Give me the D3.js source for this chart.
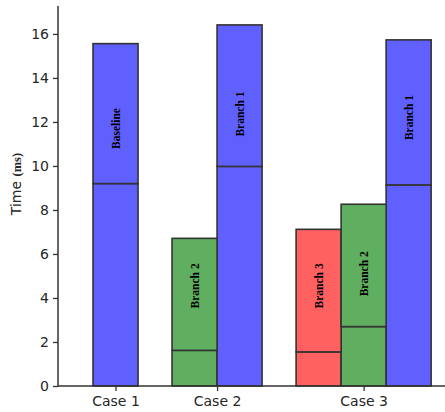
<!DOCTYPE html>
<html>
<head>
<meta charset="utf-8">
<script src="https://cdn.jsdelivr.net/npm/d3@7"></script>
<style>
  html, body { margin: 0; padding: 0; background: #fff; }
  svg { display: block; }
</style>
</head>
<body>
<svg id="chart" width="445" height="412"></svg>
<script>
// Cases on the x axis
const cases = ["Case 1", "Case 2", "Case 3"];

// One entry per bar: which case it belongs to and which branch it shows
const barCase   = [0, 1, 1, 2, 2, 2];
const barBranch = ["Baseline", "Branch 2", "Branch 1", "Branch 3", "Branch 2", "Branch 1"];

// Stacked timings (ms): lower part and full bar height
const lowerPart = [9.2, 1.62, 9.98, 1.55, 2.70, 9.14];
const totalTime = [15.56, 6.71, 16.41, 7.12, 8.26, 15.73];

// Height (ms) at which each branch name is written
const labelAt = [11.7, 4.55, 12.36, 4.55, 5.1, 12.2];

// Y ticks
const yTicks = [0, 2, 4, 6, 8, 10, 12, 14, 16];

const branchColor = {
  "Baseline": "#6060ff",
  "Branch 1": "#6060ff",
  "Branch 2": "#60ae60",
  "Branch 3": "#ff6060"
};

const ink = "#333333";
const groupGap = 0.756;   // gap between cases, in bar widths

// Slot position of every bar: bars of one case sit side by side,
// cases are separated by a gap
const barStart = [];
{
  let pos = 0, prev = barCase[0];
  barCase.forEach((c, i) => {
    if (c !== prev) { pos += groupGap; prev = c; }
    barStart.push(pos);
    pos += 1;
  });
}
const caseCenter = cases.map((_, c) => {
  const idx = barCase.map((d, i) => d === c ? i : -1).filter(i => i >= 0);
  return (barStart[idx[0]] + barStart[idx[idx.length - 1]] + 1) / 2;
});

const svg = d3.select("#chart");
const plotLeft = 58, plotRight = 445, plotTop = 6, plotBottom = 386;

const x = d3.scaleLinear().domain([-0.778, 7.82]).range([plotLeft, plotRight]);
const y = d3.scaleLinear().domain([0, 17.27]).range([plotBottom, plotTop]);

const bars = barCase.map((c, i) => ({
  c, branch: barBranch[i], start: barStart[i],
  lower: lowerPart[i], total: totalTime[i], label: labelAt[i]
}));

const g = svg.append("g");

// Lower segments
g.selectAll("rect.lower").data(bars).join("rect")
  .attr("class", "lower")
  .attr("x", d => x(d.start))
  .attr("width", d => x(d.start + 1) - x(d.start))
  .attr("y", d => y(d.lower))
  .attr("height", d => y(0) - y(d.lower))
  .attr("fill", d => branchColor[d.branch])
  .attr("stroke", ink)
  .attr("stroke-width", 1.6);

// Upper segments
g.selectAll("rect.upper").data(bars).join("rect")
  .attr("class", "upper")
  .attr("x", d => x(d.start))
  .attr("width", d => x(d.start + 1) - x(d.start))
  .attr("y", d => y(d.total))
  .attr("height", d => y(d.lower) - y(d.total))
  .attr("fill", d => branchColor[d.branch])
  .attr("stroke", ink)
  .attr("stroke-width", 1.6);

// Branch names, written vertically inside the bars
g.selectAll("text.branch").data(bars).join("text")
  .attr("class", "branch")
  .attr("transform", d => `translate(${x(d.start + 0.5)},${y(d.label)}) rotate(-90)`)
  .attr("text-anchor", "middle")
  .attr("dy", "0.35em")
  .attr("font-family", "'Liberation Serif', 'Times New Roman', serif")
  .attr("font-weight", "bold")
  .attr("font-size", "11.5px")
  .attr("fill", "#000")
  .text(d => d.branch);

// Y axis
const yAxis = svg.append("g")
  .attr("transform", `translate(${plotLeft},0)`)
  .call(d3.axisLeft(y).tickValues(yTicks).tickSize(5).tickPadding(4).tickFormat(d3.format("d")));
yAxis.select(".domain").attr("d", `M0,${plotTop}V${plotBottom}`).attr("stroke", ink).attr("stroke-width", 1.5);
yAxis.selectAll(".tick line").attr("stroke", ink).attr("stroke-width", 1.3);
yAxis.selectAll(".tick text")
  .attr("font-family", "'DejaVu Sans', sans-serif")
  .attr("font-size", "14px")
  .attr("fill", "#262626");

// X axis
const xAxis = svg.append("g")
  .attr("transform", `translate(0,${plotBottom})`)
  .call(d3.axisBottom(x).tickValues(caseCenter).tickSize(5).tickPadding(5)
    .tickFormat((d, i) => cases[i]));
xAxis.select(".domain").attr("d", `M${plotLeft},0H${plotRight}`).attr("stroke", ink).attr("stroke-width", 1.5);
xAxis.selectAll(".tick line").attr("stroke", ink).attr("stroke-width", 1.3);
xAxis.selectAll(".tick text")
  .attr("font-family", "'DejaVu Sans', sans-serif")
  .attr("font-size", "14px")
  .attr("fill", "#262626");

// Y axis title
const yTitle = svg.append("text")
  .attr("transform", "translate(21,184) rotate(-90)")
  .attr("text-anchor", "middle")
  .attr("fill", "#262626");
yTitle.append("tspan")
  .attr("font-family", "'DejaVu Sans', sans-serif")
  .attr("font-size", "14px")
  .text("Time ");
yTitle.append("tspan")
  .attr("font-family", "'Liberation Serif', 'Times New Roman', serif")
  .attr("font-weight", "bold")
  .attr("font-size", "12.5px")
  .text("(ms)");
</script>
</body>
</html>
